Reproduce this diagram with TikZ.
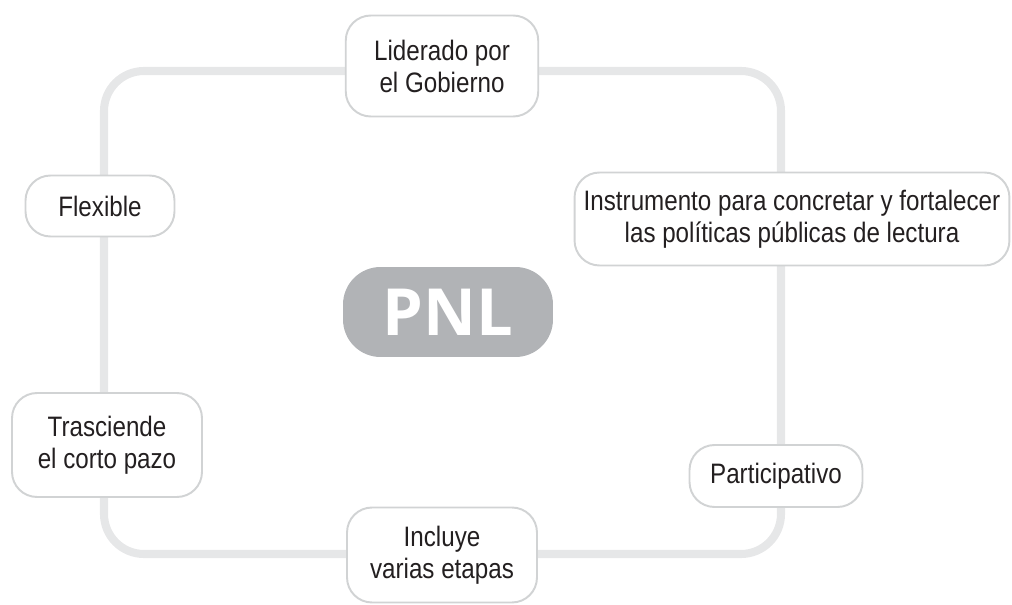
\documentclass[tikz,border=0pt]{standalone}
\usepackage{fontspec}
\setmainfont{Liberation Sans}[FakeStretch=0.86]
\newfontfamily\pnlfont{Open Sans}[BoldFont={* Bold}]
\definecolor{loopgray}{HTML}{E6E7E8}
\definecolor{boxgray}{HTML}{D1D3D4}
\definecolor{pnlgray}{HTML}{B1B3B6}
\definecolor{txt}{HTML}{231F20}
\begin{document}
\begin{tikzpicture}[x=0.02cm,y=-0.02cm,
    feature/.style={draw=boxgray,line width=1.1pt,fill=white,rounded corners=0.5cm,
        align=center,text=txt,font=\fontsize{16}{18.2}\selectfont,inner sep=0pt}]
\useasboundingbox (0,0) rectangle (1012,605);

\draw[loopgray,line width=4.6pt,rounded corners=0.8cm] (104,71) rectangle (781,554);

\node at (442,66)(gob)[feature,minimum width=3.85cm,minimum height=2.02cm]{Liderado por\\el Gobierno};
\node at (792,219)(inst)[feature,minimum width=8.7cm,minimum height=1.86cm]{Instrumento para concretar y fortalecer\\las políticas públicas de lectura};
\node at (776,476)(part)[feature,minimum width=3.46cm,minimum height=1.24cm]{Participativo};
\node at (442,555)(etap)[feature,minimum width=3.8cm,minimum height=1.9cm]{Incluye\\varias etapas};
\node at (107,445)(plazo)[feature,minimum width=3.8cm,minimum height=2.08cm]{Trasciende\\el corto pazo};
\node at (100,206)(flex)[feature,minimum width=2.98cm,minimum height=1.22cm]{Flexible};

\node at (448,312)(pnl)[fill=pnlgray,rounded corners=0.75cm,minimum width=4.2cm,minimum height=1.8cm,
    text=white,font=\pnlfont\bfseries\fontsize{37}{40}\selectfont]{PNL};
\end{tikzpicture}
\end{document}
